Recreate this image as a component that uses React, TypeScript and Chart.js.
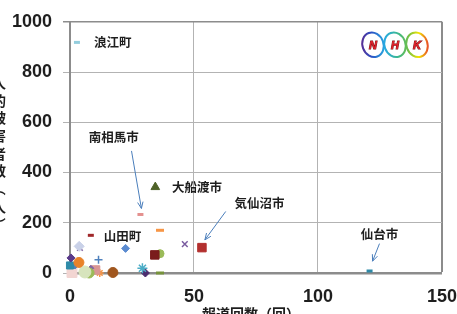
import React, { useEffect, useRef } from 'react';
import { Chart, registerables } from 'chart.js';

Chart.register(...registerables);

// ---- data ----
const pointNames = [
  '浪江町', '南相馬市', '大船渡市', '気仙沼市', '山田町', '仙台市',
  '地点07', '地点08', '地点09', '地点10', '地点11', '地点12', '地点13', '地点14',
  '地点15', '地点16', '地点17', '地点18', '地点19', '地点20', '地点21', '地点22',
  '地点23', '地点24', '地点25', '地点26', '地点27', '地点28', '地点29',
];
const reportCounts = [
  2.8, 28.4, 34.4, 53.2, 8.4, 120.8,
  36.3, 3.7, 4.0, 22.4, 34.2, 36.3, 46.3, 11.5,
  0.4, 3.6, 29.2, 30.4, 36.3, 17.3, 0.0, 2.0,
  0.8, 6.0, 7.7, 8.4, 10.3, 10.5, 12.0,
];
const casualties = [
  918, 233, 342, 101, 150, 8,
  170, 106, 100, 98, 72, 77, 115, 53,
  60, 42, 19, 0, 0, 2, 30, 28,
  2, 4, 0, 19, 12, 14, 0,
];
const xTickValues = [0, 50, 100, 150];
const yTickValues = [0, 200, 400, 600, 800, 1000];
const xAxisTitle = '報道回数（回）';
const yAxisTitle = '人的被害者数（人）';

// ---- styles (kept apart from the data) ----
const markerStyles = [
  'line', 'line', 'triangle', 'rect', 'line', 'line',
  'line', 'rectRot', 'crossRot', 'rectRot', 'rect', 'circle', 'crossRot', 'cross',
  'rectRot', 'circle', 'star', 'rectRot', 'line', 'circle', 'rect', 'rectRot',
  'rect', 'circle', 'circle', 'rectRot', 'rect', 'cross', 'star',
];
const markerColors = [
  '#93CDDD', '#E4908E', '#4F6228', '#B3302E', '#A0282A', '#2E8AA8',
  '#F79646', '#C9D1E8', '#8064A2', '#5B8BD0', '#7A1C1C', '#9BBB59', '#7A5CA0', '#4F81BD',
  '#5A3A8A', '#E8822A', '#4BACC6', '#4B2C6E', '#77933C', '#A0561E', '#2E8AA8', '#4F81BD',
  '#F2D5D2', '#D7E4BD', '#9BBB59', '#8064A2', '#D99694', '#F2DCDB', '#F79646',
];
const markerRadii = [
  3, 3, 5, 6, 3, 3,
  4, 5, 4, 4, 6, 4, 4, 4,
  4, 5, 5, 4, 4, 5, 5, 3,
  7, 6, 5, 3, 6, 4, 4,
];

// callouts: text and position in data units; arrows: [x1, y1] -> [x2, y2]
const calloutTexts = ['浪江町', '南相馬市', '大船渡市', '気仙沼市', '山田町', '仙台市'];
const calloutX = [17.2, 17.6, 51.2, 76.4, 21.2, 124.8];
const calloutY = [918, 541, 342, 276, 148, 156];
const arrowFrom = [[24.8, 486], [62.8, 245], [124.8, 117]];
const arrowTo = [[28.8, 257], [54.4, 132], [122.0, 47]];

const JP = '"Noto Sans CJK JP", "Noto Sans", sans-serif';
const LAT = '"Liberation Sans", Arial, sans-serif';

const overlayPlugin = {
  id: 'overlay',
  afterDatasetsDraw(chart: any) {
    const { ctx, chartArea, scales } = chart;
    const xs = scales.x;
    const ys = scales.y;
    ctx.save();
    // callout texts
    ctx.fillStyle = '#1E1E1E';
    ctx.font = `bold 12.5px ${JP}`;
    ctx.textAlign = 'center';
    ctx.textBaseline = 'middle';
    calloutTexts.forEach((t, i) => {
      ctx.fillText(t, xs.getPixelForValue(calloutX[i]), ys.getPixelForValue(calloutY[i]));
    });
    // arrows
    ctx.strokeStyle = '#4A7EBB';
    ctx.lineWidth = 1;
    arrowFrom.forEach((f, i) => {
      const x1 = xs.getPixelForValue(f[0]);
      const y1 = ys.getPixelForValue(f[1]);
      const x2 = xs.getPixelForValue(arrowTo[i][0]);
      const y2 = ys.getPixelForValue(arrowTo[i][1]);
      ctx.beginPath();
      ctx.moveTo(x1, y1);
      ctx.lineTo(x2, y2);
      const a = Math.atan2(y2 - y1, x2 - x1);
      const L = 7;
      ctx.moveTo(x2 - L * Math.cos(a - 0.4), y2 - L * Math.sin(a - 0.4));
      ctx.lineTo(x2, y2);
      ctx.lineTo(x2 - L * Math.cos(a + 0.4), y2 - L * Math.sin(a + 0.4));
      ctx.stroke();
    });
    // x axis title
    ctx.fillStyle = '#1E1E1E';
    ctx.font = `bold 14px ${JP}`;
    ctx.textAlign = 'center';
    ctx.textBaseline = 'middle';
    ctx.fillText(xAxisTitle, (chartArea.left + chartArea.right) / 2 - 5, chartArea.bottom + 41);
    // y axis title: vertical, upright characters
    const chars = Array.from(yAxisTitle);
    const step = 17.7;
    const cy = (chartArea.top + chartArea.bottom) / 2 + 6;
    const startY = cy - ((chars.length - 1) * step) / 2;
    chars.forEach((c, i) => {
      const x = chartArea.left - 71;
      const y = startY + i * step;
      ctx.save();
      ctx.translate(x, y);
      if (c === '（' || c === '）') ctx.rotate(Math.PI / 2);
      ctx.fillText(c, 0, 0);
      ctx.restore();
    });
    // NHK logo
    const lx = chartArea.right - 69;
    const ly = chartArea.top + 23;
    const grad = ctx.createLinearGradient(lx - 12, 0, lx + 56, 0);
    grad.addColorStop(0, '#5B2C91');
    grad.addColorStop(0.15, '#2B4FC3');
    grad.addColorStop(0.35, '#27AAE1');
    grad.addColorStop(0.55, '#3DB88B');
    grad.addColorStop(0.7, '#71BF44');
    grad.addColorStop(0.85, '#F2E600');
    grad.addColorStop(1, '#E8412C');
    ['N', 'H', 'K'].forEach((letter, i) => {
      const cx = lx + i * 22;
      ctx.beginPath();
      ctx.ellipse(cx, ly, 10.5, 12.5, -0.35, 0, Math.PI * 2);
      ctx.fillStyle = '#FFFFFF';
      ctx.fill();
      ctx.strokeStyle = grad;
      ctx.lineWidth = 2;
      ctx.stroke();
      ctx.font = `italic bold 11px ${LAT}`;
      ctx.textAlign = 'center';
      ctx.textBaseline = 'middle';
      ctx.lineWidth = 1;
      ctx.strokeStyle = '#7A1010';
      ctx.strokeText(letter, cx, ly + 1);
      ctx.fillStyle = '#E0202A';
      ctx.fillText(letter, cx, ly + 1);
    });
    ctx.restore();
  },
};

export default function App() {
  const ref = useRef<HTMLCanvasElement | null>(null);
  useEffect(() => {
    if (!ref.current) return;
    const datasets = pointNames.map((name, i) => ({
      label: name,
      data: [{ x: reportCounts[i], y: casualties[i] }],
      pointStyle: markerStyles[i],
      pointRadius: markerRadii[i],
      pointBackgroundColor: markerColors[i],
      pointBorderColor: markerColors[i],
      pointBorderWidth:
        markerStyles[i] === 'line' ? 3
          : markerStyles[i] === 'cross' || markerStyles[i] === 'crossRot' || markerStyles[i] === 'star' ? 1.5
          : 1,
      clip: false as any,
    }));
    const chart = new Chart(ref.current, {
      type: 'scatter',
      data: { datasets: datasets as any },
      plugins: [overlayPlugin],
      options: {
        animation: false,
        responsive: false,
        events: [],
        layout: { padding: { left: 0, top: 16, right: 25, bottom: 0 } },
        plugins: { legend: { display: false }, tooltip: { enabled: false } },
        scales: {
          x: {
            type: 'linear',
            min: 0,
            max: 150,
            afterFit: (s: any) => { s.height = 67; },
            afterBuildTicks: (s: any) => { s.ticks = xTickValues.map((v) => ({ value: v })); },
            ticks: {
              color: '#1E1E1E',
              padding: 13,
              font: { family: LAT, size: 18, weight: 'bold' },
              callback: (v: any) => String(v),
            },
            grid: {
              drawTicks: false,
              color: (c: any) => (c.tick && c.tick.value === 150 ? '#8C8C8C' : '#B3B3B3'),
              lineWidth: (c: any) => (c.tick && c.tick.value === 150 ? 2 : 1),
            },
            border: { color: '#8C8C8C', width: 2.5 },
          },
          y: {
            type: 'linear',
            min: 0,
            max: 1000,
            afterFit: (s: any) => { s.width = 90; },
            afterBuildTicks: (s: any) => { s.ticks = yTickValues.map((v) => ({ value: v })); },
            ticks: {
              color: '#1E1E1E',
              padding: 11,
              font: { family: LAT, size: 18, weight: 'bold' },
              callback: (v: any) => String(v),
            },
            grid: {
              tickLength: 7,
              color: (c: any) => (c.tick && c.tick.value === 1000 ? '#8C8C8C' : '#B3B3B3'),
              lineWidth: (c: any) => (c.tick && c.tick.value === 1000 ? 1.5 : 1),
            },
            border: { color: '#8C8C8C', width: 2 },
          },
        },
      } as any,
    });
    return () => chart.destroy();
  }, []);
  return (
    <div style={{ position: 'fixed', left: 0, top: 0, width: 457, height: 314, overflow: 'hidden', background: '#FFFFFF' }}>
      <canvas
        ref={ref}
        width={490}
        height={340}
        style={{ position: 'absolute', left: -20, top: 0, width: 490, height: 340 }}
      />
    </div>
  );
}
